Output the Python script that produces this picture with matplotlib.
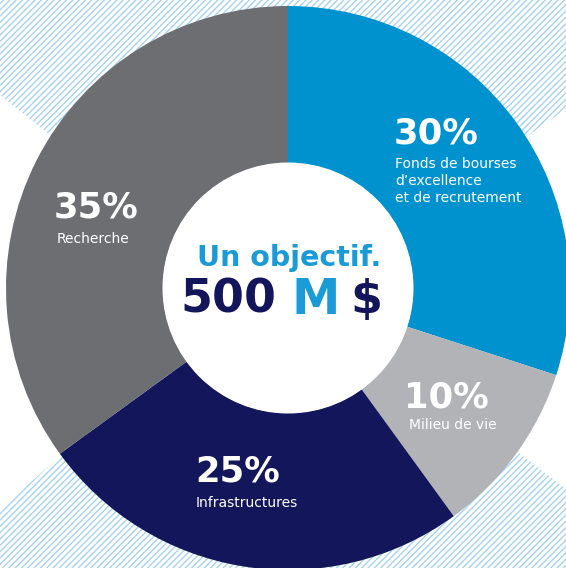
import matplotlib.pyplot as plt
from matplotlib.patches import Polygon, Circle
from matplotlib.collections import LineCollection

# share of the 500 M$ goal, clockwise from 12 o'clock
categories = ["Fonds de bourses\nd\u2019excellence\net de recrutement", "Milieu de vie",
              "Infrastructures", "Recherche"]
shares = [30, 10, 25, 35]
colors = ["#0092cf", "#b2b3b6", "#13165b", "#6d6e72"]

W, H = 566, 568
cx, cy = 288, 280
R_OUT, R_IN = 282, 125

plt.rcParams['font.family'] = ['DejaVu Sans']

fig = plt.figure(figsize=(W / 100, H / 100), dpi=100)
ax = fig.add_axes([0, 0, 1, 1])

# hatched background (everything but a left and a right wedge)
bg = Polygon([(0, 568), (566, 568), (566, 459), (306, 277), (566, 79), (566, 0),
              (0, 0), (0, 58), (244, 278), (0, 473)], closed=True,
             facecolor='none', edgecolor='none')
ax.add_patch(bg)
segs = []
c = -620.0
while c < 620:
    segs.append([(-10, -10 + c), (600, 600 + c)])
    c += 6.3
hatch = LineCollection(segs, colors="#a6d3f0", linewidths=1.0, zorder=0)
hatch.set_clip_path(bg)
ax.add_collection(hatch)

ax.pie(shares, colors=colors, startangle=90, counterclock=False,
       radius=R_OUT, center=(cx, cy),
       wedgeprops=dict(width=R_OUT - R_IN, linewidth=0))
ax.add_patch(Circle((cx, cy), R_IN + 0.5, facecolor="white", edgecolor="none", zorder=3))

ax.set_xlim(0, W)
ax.set_ylim(0, H)
ax.set_aspect('equal')
ax.axis('off')

# percentage labels
pct_pos = [(394, 435), (404, 171), (195, 96), (54, 361)]
sub_pos = [(395, 405), (409, 143), (196, 65), (57, 329)]
for share, cat, (px, py), (sx, sy) in zip(shares, categories, pct_pos, sub_pos):
    ax.text(px, py, f"{share}%", color="white", fontsize=25.5, fontweight="bold",
            ha="left", va="center", zorder=4)
    ax.text(sx, sy - (cat.count("\n") * 9), cat, color="white", fontsize=10,
            ha="left", va="center", linespacing=1.3, zorder=4)

# centre text
ax.text(289, 310, "Un objectif.", color="#1a9ad6", fontsize=20.5, fontweight="bold",
        ha="center", va="center", zorder=4)
ax.text(180, 268, "500", color="#13165b", fontsize=33, fontweight="bold",
        ha="left", va="center", zorder=4)
ax.text(292, 268, "M", color="#1a9ad6", fontsize=35, fontweight="bold",
        ha="left", va="center", zorder=4)
ax.text(350, 268, "$", color="#13165b", fontsize=33, fontweight="bold",
        ha="left", va="center", zorder=4)

fig.savefig("out.png", dpi=100)
